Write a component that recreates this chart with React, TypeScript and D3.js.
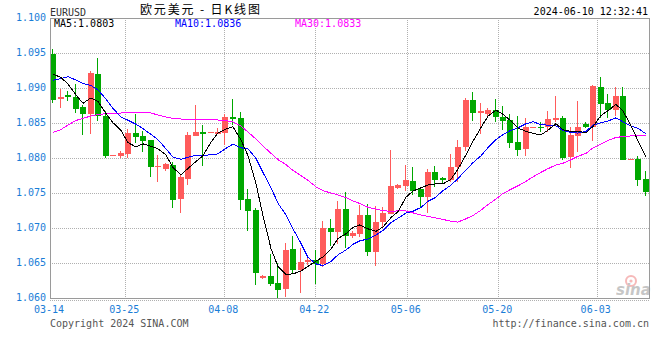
import React, { useEffect } from "react";
import * as d3 from "d3";

// ---- Data (EURUSD daily K) ----
const openPrices = [
  1.09486, 1.08847, 1.08904, 1.08871, 1.08729, 1.08633, 1.092, 1.086, 1.08033, 1.08029,
  1.08057, 1.08357, 1.08314, 1.08257, 1.07871, 1.07843, 1.079, 1.07414, 1.077, 1.08314,
  1.08371, 1.08353, 1.08343, 1.08357, 1.08586, 1.08571, 1.07414, 1.07257, 1.0629, 1.06314,
  1.06219, 1.06133, 1.067, 1.064, 1.06514, 1.06539, 1.0649, 1.07, 1.06947, 1.07271,
  1.0689, 1.06914, 1.07186, 1.06661, 1.07086, 1.072, 1.07571, 1.076, 1.07671, 1.07557,
  1.07443, 1.078, 1.07714, 1.07686, 1.07871, 1.08157, 1.08829, 1.08647, 1.08633, 1.08686,
  1.0859, 1.08547, 1.08229, 1.08133, 1.08429, 1.08443, 1.08447, 1.08543, 1.08576, 1.08014,
  1.08314, 1.0849, 1.08447, 1.09014, 1.0879, 1.08686, 1.08886, 1.07976, 1.07986, 1.077,
];
const highPrices = [
  1.09557, 1.0899, 1.08957, 1.09057, 1.08761, 1.09239, 1.09429, 1.08671, 1.0804, 1.081,
  1.08414, 1.08629, 1.08386, 1.08257, 1.08043, 1.07929, 1.07943, 1.07771, 1.08371, 1.08757,
  1.08471, 1.08367, 1.08429, 1.08633, 1.08843, 1.08657, 1.07557, 1.07286, 1.06333, 1.06633,
  1.06504, 1.06786, 1.0689, 1.06719, 1.0659, 1.06681, 1.07104, 1.07129, 1.07386, 1.07514,
  1.06961, 1.07329, 1.07343, 1.07314, 1.073, 1.08114, 1.07629, 1.079, 1.07871, 1.07586,
  1.07843, 1.07886, 1.07729, 1.08057, 1.08257, 1.08857, 1.08943, 1.08786, 1.08714, 1.08843,
  1.08743, 1.08633, 1.08604, 1.08571, 1.08443, 1.08514, 1.08671, 1.08886, 1.086, 1.08443,
  1.08814, 1.08514, 1.09043, 1.09161, 1.08919, 1.09019, 1.09014, 1.0799, 1.08033, 1.07814,
];
const lowPrices = [
  1.0879, 1.08719, 1.08814, 1.08643, 1.08329, 1.08343, 1.08533, 1.08, 1.0803, 1.08,
  1.08, 1.08214, 1.08086, 1.07729, 1.07657, 1.07814, 1.07286, 1.07214, 1.07614, 1.08314,
  1.07886, 1.08353, 1.08343, 1.08186, 1.08471, 1.07261, 1.06961, 1.0619, 1.06276, 1.06176,
  1.0598, 1.06019, 1.06353, 1.06076, 1.06471, 1.06204, 1.06447, 1.06747, 1.06767, 1.0671,
  1.06861, 1.06876, 1.06604, 1.06461, 1.07, 1.072, 1.07557, 1.07529, 1.07471, 1.073,
  1.07214, 1.07586, 1.07643, 1.07657, 1.07657, 1.081, 1.08529, 1.08343, 1.08586, 1.08514,
  1.08404, 1.08147, 1.08029, 1.08029, 1.08429, 1.08371, 1.08371, 1.08514, 1.07971, 1.07861,
  1.0809, 1.08433, 1.08247, 1.08576, 1.08576, 1.08604, 1.07976, 1.07976, 1.076, 1.07461,
];
const closePrices = [
  1.08829, 1.08867, 1.08876, 1.08704, 1.08633, 1.09219, 1.086, 1.08029, 1.08039, 1.08071,
  1.08357, 1.083, 1.08243, 1.07871, 1.07886, 1.07914, 1.074, 1.07729, 1.08329, 1.08371,
  1.08343, 1.08367, 1.08376, 1.08586, 1.08557, 1.07404, 1.07247, 1.06361, 1.06314, 1.06204,
  1.06119, 1.06686, 1.064, 1.06514, 1.06547, 1.06481, 1.07, 1.06947, 1.07271, 1.0689,
  1.06933, 1.07186, 1.06661, 1.07086, 1.0721, 1.076, 1.07614, 1.07686, 1.07529, 1.07443,
  1.078, 1.07686, 1.07686, 1.07871, 1.08157, 1.08829, 1.08647, 1.08671, 1.08686, 1.08586,
  1.08533, 1.08219, 1.08119, 1.08443, 1.08443, 1.08429, 1.08557, 1.08576, 1.08004, 1.08329,
  1.08443, 1.08447, 1.09033, 1.08776, 1.08686, 1.08886, 1.07976, 1.0799, 1.0769, 1.07519,
];
// Moving-average values before enough candles are visible
const ma5Head = [1.092, 1.0915, 1.09057, 1.089];
const ma10Head = [1.0911, 1.09136, 1.09161, 1.09114, 1.09064, 1.09036, 1.08971, 1.08843, 1.08707];
const ma30Head = [
  1.08364, 1.08407, 1.08471, 1.08536, 1.08567, 1.086, 1.08621, 1.08633, 1.08639, 1.08643,
  1.08643, 1.08643, 1.08657, 1.08643, 1.08614, 1.08586, 1.08564, 1.08557, 1.08553, 1.08553,
  1.08553, 1.08543, 1.08543, 1.08539, 1.08514, 1.08457, 1.08371, 1.08271, 1.08171,
];
const yTicks = [1.1, 1.095, 1.09, 1.085, 1.08, 1.075, 1.07, 1.065, 1.06];
const xTickLabels = ["03-14", "03-25", "04-08", "04-22", "05-06", "05-20", "06-03"];
const xTickPositions = [0, 10.04, 23.24, 35.37, 47.56, 59.77, 72.89];
const legendLabels = ["MA5:1.0803", "MA10:1.0836", "MA30:1.0833"];

const MONO = "'DejaVu Sans Mono', 'Liberation Mono', monospace";
const RED = "#ff5b5b";
const GREEN = "#00a800";
const AXIS_BLUE = "#1a7dd7";

function movingAverage(values: number[], n: number, head: number[]): number[] {
  return values.map((_, i) =>
    i < n - 1 ? head[i] : (d3.mean(values.slice(i - n + 1, i + 1)) as number)
  );
}

export default function App() {
  useEffect(() => {
    document.body.style.margin = "0";
  }, []);

  const W = 660;
  const H = 360;
  const L = 50;
  const R = 650;
  const T = 18;
  const B = 298;
  const n = closePrices.length;

  const x = d3.scaleLinear().domain([0, n]).range([L, R]);
  const y = d3.scaleLinear().domain([1.06, 1.1]).range([B, T]);
  const step = x(1) - x(0);
  const bodyW = Math.round(step * 0.8);

  const ma5 = movingAverage(closePrices, 5, ma5Head);
  const ma10 = movingAverage(closePrices, 10, ma10Head);
  const ma30 = movingAverage(closePrices, 30, ma30Head);

  const cx = (i: number) => Math.round(x(i) + bodyW / 2) - 0.5;
  const line = d3
    .line<number>()
    .x((_, i) => cx(i) + 0.5)
    .y((v) => y(v));

  const gridColor = "#b0b0b0";
  const frameColor = "#9a9a9a";

  return (
    <svg
      width={W}
      height={H}
      style={{ position: "absolute", left: 0, top: 0, background: "#fff" }}
    >
      {/* header */}
      <text x={L} y={16} fontFamily={MONO} fontSize={10} fill="#333">
        EURUSD
      </text>
      <text
        x={140}
        y={14}
        fontFamily="'Noto Sans CJK SC', sans-serif"
        fontSize={12}
        textLength={120}
        lengthAdjust="spacing"
        fill="#000"
      >
        欧元美元 - 日K线图
      </text>
      <text x={648} y={15} textAnchor="end" fontFamily={MONO} fontSize={10} fill="#000">
        2024-06-10 12:32:41
      </text>

      {/* horizontal grid */}
      {yTicks
        .filter((t) => t < 1.0999 && t > 1.0601)
        .map((t) => (
          <line
            key={"hg" + t}
            x1={L}
            x2={R}
            y1={Math.round(y(t)) + 0.5}
            y2={Math.round(y(t)) + 0.5}
            stroke={gridColor}
            strokeDasharray="1,1"
          />
        ))}
      <line x1={L} x2={R} y1={300.5} y2={300.5} stroke={gridColor} strokeDasharray="1,1" />
      {/* vertical grid */}
      {xTickPositions.slice(1).map((p) => (
        <line
          key={"vg" + p}
          x1={Math.round(x(p)) + 0.5}
          x2={Math.round(x(p)) + 0.5}
          y1={T}
          y2={B}
          stroke={gridColor}
          strokeDasharray="1,1"
        />
      ))}

      {/* sina logo */}
      <g opacity={0.55}>
        <circle cx={631} cy={281} r={5} fill="none" stroke="#f08080" strokeWidth={2} />
        <circle cx={631} cy={281} r={1.6} fill="#f08080" />
        <text
          x={616}
          y={295}
          fontFamily="'DejaVu Sans', sans-serif"
          fontStyle="italic"
          fontWeight="bold"
          fontSize={15}
          fill="#999"
        >
          sina
        </text>
      </g>

      {/* candles */}
      <g shapeRendering="crispEdges">
        {closePrices.map((c, i) => {
          const o = openPrices[i];
          const up = c >= o;
          const color = up ? RED : GREEN;
          const top = Math.round(y(Math.max(o, c)));
          const bot = Math.round(y(Math.min(o, c)));
          const left = Math.round(x(i));
          return (
            <g key={"c" + i}>
              <line
                x1={cx(i)}
                x2={cx(i)}
                y1={Math.round(y(highPrices[i]))}
                y2={Math.round(y(lowPrices[i]))}
                stroke={color}
              />
              <rect x={left} y={top} width={bodyW} height={Math.max(1, bot - top)} fill={color} />
            </g>
          );
        })}
      </g>

      {/* moving averages */}
      <g fill="none" strokeWidth={1} shapeRendering="crispEdges">
        <path d={line(ma30) || ""} stroke="#ff00ff" />
        <path d={line(ma10) || ""} stroke="#0000ff" />
        <path d={line(ma5) || ""} stroke="#000000" />
      </g>

      {/* frame */}
      <g shapeRendering="crispEdges" stroke={frameColor} fill="none">
        <line x1={L + 0.5} x2={L + 0.5} y1={T} y2={B + 1} />
        <line x1={L} x2={R} y1={T + 0.5} y2={T + 0.5} />
        <line x1={R - 0.5} x2={R - 0.5} y1={T} y2={B + 1} />
        <line x1={L} x2={R} y1={B + 0.5} y2={B + 0.5} />
      </g>

      {/* legend */}
      <text x={54} y={27} fontFamily={MONO} fontSize={10} fill="#000">
        {legendLabels[0]}
      </text>
      <text x={175} y={27} fontFamily={MONO} fontSize={10} fill="#0000ff">
        {legendLabels[1]}
      </text>
      <text x={295} y={27} fontFamily={MONO} fontSize={10} fill="#ff00ff">
        {legendLabels[2]}
      </text>

      {/* y axis labels */}
      {yTicks.map((t) => (
        <text
          key={"yl" + t}
          x={46}
          y={y(t) + 3}
          textAnchor="end"
          fontFamily={MONO}
          fontSize={10}
          fill={AXIS_BLUE}
        >
          {d3.format(".3f")(t)}
        </text>
      ))}

      {/* x axis labels */}
      {xTickLabels.map((lab, k) => (
        <text
          key={"xl" + lab}
          x={x(xTickPositions[k]) - 1}
          y={313}
          textAnchor="middle"
          fontFamily={MONO}
          fontSize={10}
          fill={AXIS_BLUE}
        >
          {lab}
        </text>
      ))}

      {/* footer */}
      <text x={L} y={327} fontFamily={MONO} fontSize={10} fill="#555">
        Copyright 2024 SINA.COM
      </text>
      <text x={649} y={327} textAnchor="end" fontFamily={MONO} fontSize={10} fill="#555">
        http://finance.sina.com.cn
      </text>
    </svg>
  );
}
